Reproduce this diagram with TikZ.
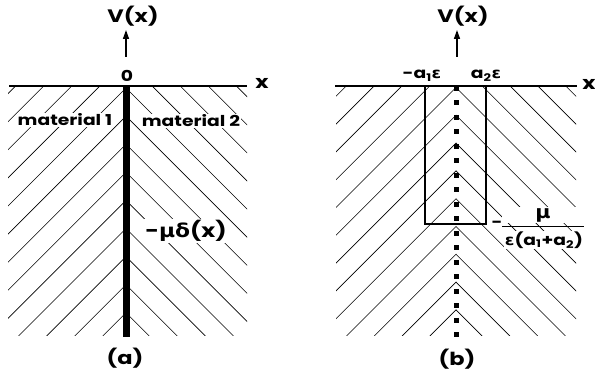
\documentclass[tikz,border=0pt]{standalone}
\usepackage{fontspec}
\setmainfont{Poppins}[FakeStretch=1.25]
\newfontfamily\gr{DejaVu Sans}[FakeStretch=1.15]
\usetikzlibrary{arrows.meta}
\tikzset{
  hatch/.style={line width=0.6pt},
  axisline/.style={line width=1.8pt},
  uparrow/.style={line width=1.5pt,-{Triangle[length=9pt,width=6pt]}},
  lbl/.style={font=\bfseries\fontsize{15}{17}\selectfont, inner sep=1pt},
  wlbl/.style={lbl, fill=white},
  big/.style={font=\bfseries\fontsize{18}{20}\selectfont, inner sep=1pt},
  wbig/.style={font=\bfseries\fontsize{19}{21}\selectfont, inner sep=1pt, fill=white},
}
\begin{document}
\begin{tikzpicture}[x=1pt,y=-1pt]
\useasboundingbox (0,0) rectangle (595,379);
% ---------- panel (a) hatching
\begin{scope}
  \clip (8,86) rectangle (126,336);
  \foreach \k in {-5,...,9} {
    \pgfmathsetmacro\c{214+28.1*\k}
    \draw[hatch] ({\c-86},86) -- ({\c-336},336);
  }
\end{scope}
\begin{scope}
  \clip (126,86) rectangle (247,336);
  \foreach \k in {-5,...,9} {
    \pgfmathsetmacro\d{-38+28.1*\k}
    \draw[hatch] ({86-\d},86) -- ({336-\d},336);
  }
\end{scope}
% ---------- panel (b) hatching
\begin{scope}
  \clip (336,86) rectangle (456,336);
  \foreach \k in {-5,...,9} {
    \pgfmathsetmacro\c{543.5+27.8*\k}
    \draw[hatch] ({\c-86},86) -- ({\c-336},336);
  }
\end{scope}
\begin{scope}
  \clip (456,86) rectangle (576,336);
  \foreach \k in {-5,...,9} {
    \pgfmathsetmacro\d{-368.5+27.8*\k}
    \draw[hatch] ({86-\d},86) -- ({336-\d},336);
  }
\end{scope}
% ---------- panel (a)
\coordinate (aL) at (9,86);
\coordinate (aR) at (247,86);
\coordinate (aO) at (126,86);
\coordinate (aB) at (126,337);
\coordinate (aT) at (126,57);
\coordinate (aH) at (126,30);
\draw[axisline] (aL) -- (aR);
\draw[line width=7pt] (aO) -- (aB);
\draw[uparrow] (aT) -- (aH);
\node[big] (aV) at (133,16) {V(x)};
\node[lbl] (a0) at (127,76) {0};
\node[big] (ax) at (262,83) {x};
\node[wlbl] (m1) at (65,120) {material 1};
\node[wlbl] (m2) at (191,121) {material 2};
\node[wbig] (delta) at (186,231) {-{\gr μδ}(x)};
\node[big] (acap) at (125,358) {(a)};
% ---------- panel (b)
\coordinate (bL) at (335,86);
\coordinate (bR) at (577,86);
\coordinate (bO) at (456,86);
\coordinate (bB) at (456,341);
\coordinate (bT) at (457,57);
\coordinate (bH) at (457,30);
\coordinate (b1) at (425,86);
\coordinate (b2) at (486,86);
\coordinate (b3) at (486,224);
\coordinate (b4) at (425,224);
\draw[axisline] (bL) -- (bR);
\draw[line width=5pt, dash pattern=on 5pt off 9.5pt] (bO) -- (bB);
\draw[line width=2.6pt, line join=miter] (b1) -- (b4) -- (b3) -- (b2);
\draw[uparrow] (bT) -- (bH);
\node[big] (bV) at (463,16) {V(x)};
\node[lbl] (bm) at (422,76) {-a\textsubscript{1}{\gr ε}};
\node[lbl] (bp) at (486,76) {a\textsubscript{2}{\gr ε}};
\node[big] (bx) at (589,84) {x};
\node[lbl] (minus) at (497,224) {-};
\node[big, fill=white, minimum width=82pt] (num) at (543,215) {{\gr μ}};
\node[wlbl] (den) at (544,240) {{\gr ε}(a\textsubscript{1}+a\textsubscript{2})};
\draw[line width=1pt] (502,226.5) -- (584,226.5);
\node[big] (bcap) at (457,359) {(b)};
\end{tikzpicture}
\end{document}
